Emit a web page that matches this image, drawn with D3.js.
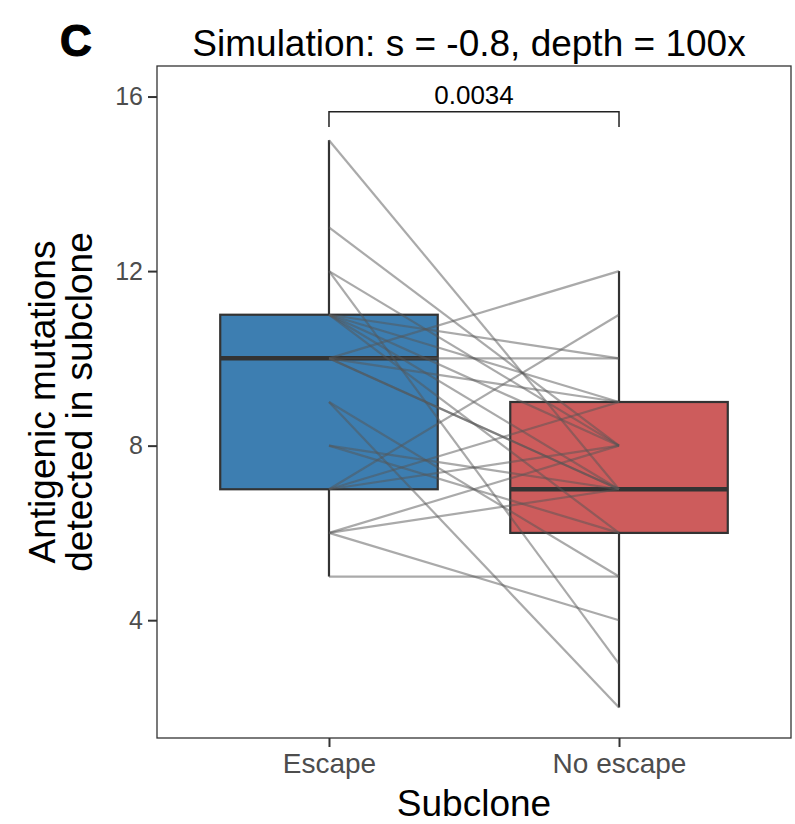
<!DOCTYPE html>
<html>
<head>
<meta charset="utf-8">
<script src="https://cdn.jsdelivr.net/npm/d3@7"></script>
<style>
  body { margin: 0; background: #fff; }
  svg { font-family: "Liberation Sans", Arial, Helvetica, sans-serif; }
</style>
</head>
<body>
<div id="chart"></div>
<script>
// categories and tick labels
const groups  = ['Escape', 'No escape']
const yTicks  = [4, 8, 12, 16]
const colours = ['#3d7eb1', '#cd5c5c']

// paired values per simulated tumour (escape subclone -> no escape subclone)
const escapeVals   = [15, 13, 12, 12, 11, 11, 11, 11, 11, 10, 10, 10, 10, 10, 9, 9, 8, 8, 7, 7, 7, 6, 6, 6, 5]
const noEscapeVals = [7, 8, 8, 3, 10, 9, 8, 7, 6, 12, 10, 7, 7, 9, 2, 5, 7, 6, 11, 9, 8, 8, 7, 4, 5]

const pValue = '0.0034'
const title  = 'Simulation: s = -0.8, depth = 100x'

const width  = 795,
      height = 824,
      panel  = { left: 157, right: 791, top: 66, bottom: 738 }

const svg = d3.select('#chart')
  .append('svg')
  .attr('width', width)
  .attr('height', height)

// scales
const x = d3.scalePoint()
  .domain(groups)
  .range([panel.left, panel.right])
  .padding(0.593)
const y = d3.scaleLinear()
  .domain([1.3, 16.7])
  .range([panel.bottom, panel.top])

const boxW = x.step() * 0.75

// ggplot style quantiles (type 7)
const stats = vals => {
  const s = vals.slice().sort(d3.ascending)
  const q1 = d3.quantileSorted(s, 0.25),
        med = d3.quantileSorted(s, 0.5),
        q3 = d3.quantileSorted(s, 0.75),
        iqr = q3 - q1
  const lo = d3.min(s.filter(v => v >= q1 - 1.5 * iqr)),
        hi = d3.max(s.filter(v => v <= q3 + 1.5 * iqr))
  return { q1, med, q3, lo, hi }
}
const boxes = [stats(escapeVals), stats(noEscapeVals)]

// axes
const yAxis = svg.append('g')
  .attr('transform', `translate(${panel.left},0)`)
  .call(d3.axisLeft(y).tickValues(yTicks).tickSize(9).tickPadding(5))
yAxis.select('.domain').remove()
yAxis.selectAll('line').attr('stroke', '#333').attr('stroke-width', 2)
yAxis.selectAll('text').attr('fill', '#4d4d4d').attr('font-size', 25)

const xAxis = svg.append('g')
  .attr('transform', `translate(0,${panel.bottom})`)
  .call(d3.axisBottom(x).tickSize(9).tickPadding(6))
xAxis.select('.domain').remove()
xAxis.selectAll('line').attr('stroke', '#333').attr('stroke-width', 2)
xAxis.selectAll('text').attr('fill', '#4d4d4d').attr('font-size', 28)

// boxplots
const box = svg.append('g')
boxes.forEach((b, i) => {
  const cx = x(groups[i])
  box.append('line')
    .attr('x1', cx).attr('x2', cx)
    .attr('y1', y(b.hi)).attr('y2', y(b.q3))
    .attr('stroke', '#333').attr('stroke-width', 2.2)
  box.append('line')
    .attr('x1', cx).attr('x2', cx)
    .attr('y1', y(b.q1)).attr('y2', y(b.lo))
    .attr('stroke', '#333').attr('stroke-width', 2.2)
  box.append('rect')
    .attr('x', cx - boxW / 2)
    .attr('y', y(b.q3))
    .attr('width', boxW)
    .attr('height', y(b.q1) - y(b.q3))
    .attr('fill', colours[i])
    .attr('stroke', '#333')
    .attr('stroke-width', 2.2)
  box.append('line')
    .attr('x1', cx - boxW / 2).attr('x2', cx + boxW / 2)
    .attr('y1', y(b.med)).attr('y2', y(b.med))
    .attr('stroke', '#333').attr('stroke-width', 4.5)
})

// paired lines
svg.append('g')
  .selectAll('line')
  .data(escapeVals.map((v, i) => [v, noEscapeVals[i]]))
  .join('line')
    .attr('x1', x(groups[0]))
    .attr('x2', x(groups[1]))
    .attr('y1', d => y(d[0]))
    .attr('y2', d => y(d[1]))
    .attr('stroke', '#555')
    .attr('stroke-opacity', 0.5)
    .attr('stroke-width', 2.2)

// panel border
svg.append('rect')
  .attr('x', panel.left)
  .attr('y', panel.top)
  .attr('width', panel.right - panel.left)
  .attr('height', panel.bottom - panel.top)
  .attr('fill', 'none')
  .attr('stroke', '#333')
  .attr('stroke-width', 1.3)

// significance bracket
const brY = y(15.65), tip = y(15.3)
svg.append('path')
  .attr('d', `M${x(groups[0])},${tip}V${brY}H${x(groups[1])}V${tip}`)
  .attr('fill', 'none')
  .attr('stroke', '#222')
  .attr('stroke-width', 1.5)
svg.append('text')
  .attr('x', (x(groups[0]) + x(groups[1])) / 2)
  .attr('y', brY - 8)
  .attr('text-anchor', 'middle')
  .attr('font-size', 26)
  .attr('fill', '#000')
  .text(pValue)

// titles
svg.append('text')
  .attr('x', 60).attr('y', 56)
  .attr('font-size', 44)
  .attr('font-weight', 'bold')
  .attr('stroke', '#000')
  .attr('stroke-width', 1.2)
  .text('C')
svg.append('text')
  .attr('x', (panel.left + panel.right) / 2 - 5)
  .attr('y', 56)
  .attr('text-anchor', 'middle')
  .attr('font-size', 37)
  .text(title)
svg.append('text')
  .attr('x', (panel.left + panel.right) / 2)
  .attr('y', 816)
  .attr('text-anchor', 'middle')
  .attr('font-size', 37)
  .text('Subclone')

const yt = svg.append('text')
  .attr('transform', `translate(55,${(panel.top + panel.bottom) / 2}) rotate(-90)`)
  .attr('text-anchor', 'middle')
  .attr('font-size', 37)
yt.append('tspan').attr('x', 0).attr('dy', 0).text('Antigenic mutations')
yt.append('tspan').attr('x', 0).attr('dy', 37).text('detected in subclone')
</script>
</body>
</html>
